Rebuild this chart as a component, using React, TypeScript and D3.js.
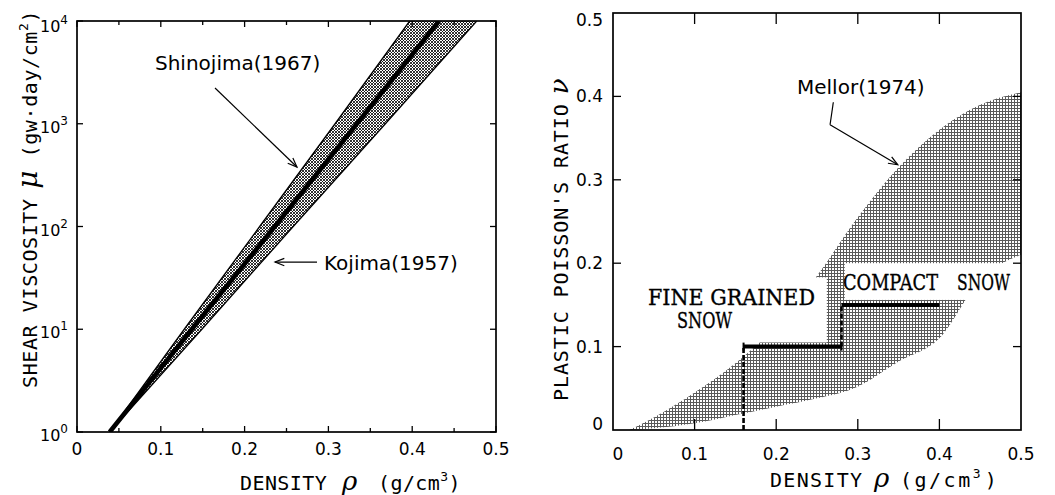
import React from "react";
import * as d3 from "d3";

const W = 1055;
const H = 495;

// ---------- Left panel: shear viscosity vs density ----------
const muDecades = [1, 10, 100, 1000, 10000];
const shinojimaUpperRho = [0.039, 0.128, 0.218, 0.308, 0.397];
const kojimaRho = [0.039, 0.137, 0.236, 0.334, 0.432];
const shinojimaLowerRho = [0.039, 0.149, 0.258, 0.368, 0.477];

const xMajorTicks = [0, 0.1, 0.2, 0.3, 0.4, 0.5];
const xMinorTicks = [0.05, 0.15, 0.25, 0.35, 0.45];
const yDecadeTicks = [1, 10, 100, 1000, 10000];
const yExponentLabels = ["0", "1", "2", "3", "4"];

// ---------- Right panel: plastic Poisson's ratio vs density ----------
const mellorRho = [0.02, 0.05, 0.1, 0.15, 0.2, 0.25, 0.3, 0.35, 0.4, 0.45, 0.5];
const mellorUpperNu = [0, 0.015, 0.045, 0.08, 0.125, 0.185, 0.255, 0.315, 0.36, 0.39, 0.405];
const mellorLowerNu = [0, 0.002, 0.008, 0.018, 0.028, 0.038, 0.052, 0.082, 0.11, 0.18, 0.21];

const fineRho = [0.16, 0.28];
const fineNu = 0.1;
const compactRho = [0.28, 0.4];
const compactNu = 0.15;

const rXTicks = [0, 0.1, 0.2, 0.3, 0.4, 0.5];
const rYTicks = [0, 0.1, 0.2, 0.3, 0.4, 0.5];
const rTickLabels = ["0", "0.1", "0.2", "0.3", "0.4", "0.5"];

const MONO = "'DejaVu Sans Mono', monospace";
const SANS = "'DejaVu Sans', sans-serif";
const SERIF = "'DejaVu Serif', serif";
const TYPE = "'DejaVu Serif', 'Liberation Serif', serif";

function Arrow({ x1, y1, x2, y2, len = 10 }: { x1: number; y1: number; x2: number; y2: number; len?: number }) {
  const a = Math.atan2(y2 - y1, x2 - x1);
  const h = 0.38;
  const p1 = [x2 - len * Math.cos(a - h), y2 - len * Math.sin(a - h)];
  const p2 = [x2 - len * Math.cos(a + h), y2 - len * Math.sin(a + h)];
  return (
    <g stroke="#000" strokeWidth={1.2} fill="none">
      <line x1={x1} y1={y1} x2={x2} y2={y2} />
      <polyline points={`${p1[0]},${p1[1]} ${x2},${y2} ${p2[0]},${p2[1]}`} />
    </g>
  );
}

export default function App() {
  const xL = d3.scaleLinear().domain([0, 0.5]).range([77, 496]);
  const yL = d3.scaleLog().domain([1, 1e4]).range([432, 21]);
  const xR = d3.scaleLinear().domain([0, 0.5]).range([613, 1021]);
  const yR = d3.scaleLinear().domain([0, 0.5]).range([430, 13]);

  const idx = muDecades.map((_, i) => i);
  const bandPath = d3
    .area<number>()
    .y((i) => yL(muDecades[i]))
    .x0((i) => xL(shinojimaUpperRho[i]))
    .x1((i) => xL(shinojimaLowerRho[i]))(idx) as string;
  const upperEdge = d3
    .line<number>()
    .x((i) => xL(shinojimaUpperRho[i]))
    .y((i) => yL(muDecades[i]))(idx) as string;
  const lowerEdge = d3
    .line<number>()
    .x((i) => xL(shinojimaLowerRho[i]))
    .y((i) => yL(muDecades[i]))(idx) as string;
  const kojimaPath = d3
    .line<number>()
    .x((i) => xL(kojimaRho[i]))
    .y((i) => yL(muDecades[i]))(idx) as string;

  const mIdx = mellorRho.map((_, i) => i);
  const mellorPath = d3
    .area<number>()
    .curve(d3.curveMonotoneX)
    .x((i) => xR(mellorRho[i]))
    .y0((i) => yR(mellorLowerNu[i]))
    .y1((i) => yR(mellorUpperNu[i]))(mIdx) as string;

  const fineMask = { r0: 0.04, r1: 0.262, n0: 0.105, n1: 0.183 };
  const compactMask = { r0: 0.284, r1: 0.5, n0: 0.156, n1: 0.2 };

  const lT = yL.range()[1], lB = yL.range()[0], lLft = xL.range()[0], lRgt = xL.range()[1];
  const rT = yR.range()[1], rB = yR.range()[0], rLft = xR.range()[0], rRgt = xR.range()[1];

  const snowLabel = (x: number, y: number, len: number, s: string) => (
    <text
      x={x}
      y={y}
      fontFamily={TYPE}
      fontSize={22}
      textLength={len}
      lengthAdjust="spacingAndGlyphs"
      fill="#000"
      stroke="#000"
      strokeWidth={0.35}
    >
      {s}
    </text>
  );

  return (
    <svg width={W} height={H} style={{ position: "absolute", left: 0, top: 0, background: "#fff" }}>
      <defs>
        <pattern id="hatch" width={3} height={3} patternUnits="userSpaceOnUse">
          <rect width={3} height={3} fill="#fff" />
          <path d="M0,0 L3,3 M3,0 L0,3" stroke="#000" strokeWidth={0.8} />
        </pattern>
        <pattern id="stipple" width={3} height={3} patternUnits="userSpaceOnUse">
          <rect width={3} height={3} fill="#fff" />
          <rect x={0} y={0} width={3} height={1} fill="#5a5a5a" />
          <rect x={0} y={0} width={1} height={3} fill="#5a5a5a" />
        </pattern>
        <clipPath id="clipL">
          <rect x={lLft} y={lT} width={lRgt - lLft} height={lB - lT} />
        </clipPath>
        <clipPath id="clipR">
          <rect x={rLft} y={rT} width={rRgt - rLft} height={rB - rT} />
        </clipPath>
      </defs>

      {/* ================= LEFT PANEL ================= */}
      <g clipPath="url(#clipL)">
        <path d={bandPath} fill="url(#hatch)" stroke="none" />
        <path d={upperEdge} fill="none" stroke="#000" strokeWidth={1.3} />
        <path d={lowerEdge} fill="none" stroke="#000" strokeWidth={1.3} />
        <path d={kojimaPath} fill="none" stroke="#000" strokeWidth={4.6} />
      </g>
      <rect x={lLft} y={lT} width={lRgt - lLft} height={lB - lT} fill="none" stroke="#000" strokeWidth={1.7} />
      <g stroke="#000" strokeWidth={1.3}>
        {xMajorTicks.map((t) => (
          <g key={"lxM" + t}>
            <line x1={xL(t)} x2={xL(t)} y1={lB} y2={lB - 6} />
            <line x1={xL(t)} x2={xL(t)} y1={lT} y2={lT + 6} />
          </g>
        ))}
        {xMinorTicks.map((t) => (
          <g key={"lxm" + t}>
            <line x1={xL(t)} x2={xL(t)} y1={lB} y2={lB - 4} />
            <line x1={xL(t)} x2={xL(t)} y1={lT} y2={lT + 4} />
          </g>
        ))}
        {yDecadeTicks.map((t) => (
          <g key={"ly" + t}>
            <line x1={lLft} x2={lLft + 6} y1={yL(t)} y2={yL(t)} />
            <line x1={lRgt} x2={lRgt - 6} y1={yL(t)} y2={yL(t)} />
          </g>
        ))}
      </g>
      <g fontFamily={SANS} fontSize={17} textAnchor="middle" fill="#000">
        {xMajorTicks.map((t) => (
          <text key={"lxl" + t} x={xL(t)} y={455}>
            {t === 0 ? "0" : d3.format(".1f")(t)}
          </text>
        ))}
      </g>
      <g fontFamily={SANS} fontSize={16} fill="#000">
        {yDecadeTicks.map((t, i) => (
          <text key={"lyl" + t} x={40} y={Math.max(yL(t) + 9, 32)}>
            10
            <tspan fontSize={12} dy={-8}>
              {yExponentLabels[i]}
            </tspan>
          </text>
        ))}
      </g>
      <text transform={`translate(37, 388) rotate(-90)`} fontFamily={MONO} fontSize={20} letterSpacing={0.6} fill="#000">
        SHEAR VISCOSITY
        <tspan fontFamily={SERIF} fontStyle="italic" fontSize={28}>
          {" μ"}
        </tspan>
        <tspan>{" (gw·day/cm"}</tspan>
        <tspan fontSize={13} dy={-9}>2</tspan>
        <tspan dy={9}>)</tspan>
      </text>
      <text x={240} y={490} fontFamily={MONO} fontSize={20} letterSpacing={0.4} fill="#000">
        DENSITY
        <tspan x={342} fontFamily={SERIF} fontStyle="italic" fontSize={26}>ρ</tspan>
        <tspan x={378}>(g/cm</tspan>
        <tspan fontSize={13} dy={-9}>3</tspan>
        <tspan dy={9}>)</tspan>
      </text>
      <text x={155} y={70} fontFamily={SANS} fontSize={20} fill="#000">
        Shinojima(1967)
      </text>
      <Arrow x1={xL(0.1647)} y1={yL(2228)} x2={xL(0.2625)} y2={yL(379)} />
      <text x={324} y={270} fontFamily={SANS} fontSize={20} fill="#000">
        Kojima(1957)
      </text>
      <Arrow x1={xL(0.2864)} y1={yL(45.1)} x2={xL(0.2363)} y2={yL(45.1)} />

      {/* ================= RIGHT PANEL ================= */}
      <g clipPath="url(#clipR)">
        <path d={mellorPath} fill="url(#stipple)" stroke="none" />
        <rect
          x={xR(fineMask.r0)}
          y={yR(fineMask.n1)}
          width={xR(fineMask.r1) - xR(fineMask.r0)}
          height={yR(fineMask.n0) - yR(fineMask.n1)}
          fill="#fff"
        />
        <rect
          x={xR(compactMask.r0)}
          y={yR(compactMask.n1)}
          width={xR(compactMask.r1) - xR(compactMask.r0)}
          height={yR(compactMask.n0) - yR(compactMask.n1)}
          fill="#fff"
        />
        <line x1={xR(fineRho[0])} x2={xR(fineRho[0])} y1={yR(0)} y2={yR(fineNu)} stroke="#000" strokeWidth={2.6} strokeDasharray="5,2" />
        <line
          x1={xR(compactRho[0])}
          x2={xR(compactRho[0])}
          y1={yR(fineNu)}
          y2={yR(compactNu)}
          stroke="#000"
          strokeWidth={2.6}
          strokeDasharray="5,2"
        />
        <line x1={xR(fineRho[0])} x2={xR(fineRho[1])} y1={yR(fineNu)} y2={yR(fineNu)} stroke="#000" strokeWidth={4} />
        <line x1={xR(compactRho[0])} x2={xR(compactRho[1])} y1={yR(compactNu)} y2={yR(compactNu)} stroke="#000" strokeWidth={4} />
        {[fineRho[0], fineRho[1]].map((r, i) => (
          <line key={"fe" + i} x1={xR(r)} x2={xR(r)} y1={yR(fineNu) - 4} y2={yR(fineNu) + 4} stroke="#000" strokeWidth={2} />
        ))}
      </g>
      <rect x={rLft} y={rT} width={rRgt - rLft} height={rB - rT} fill="none" stroke="#000" strokeWidth={1.7} />
      <g stroke="#000" strokeWidth={1.3}>
        {rXTicks.slice(1, -1).map((t) => (
          <g key={"rx" + t}>
            <line x1={xR(t)} x2={xR(t)} y1={rB} y2={rB - 11} />
            <line x1={xR(t)} x2={xR(t)} y1={rT} y2={rT + 11} />
          </g>
        ))}
        {rYTicks.slice(1, -1).map((t) => (
          <g key={"ry" + t}>
            <line x1={rLft} x2={rLft + 8} y1={yR(t)} y2={yR(t)} />
            <line x1={rRgt} x2={rRgt - 8} y1={yR(t)} y2={yR(t)} />
          </g>
        ))}
      </g>
      <g fontFamily={SANS} fontSize={17} fill="#000">
        {rXTicks.map((t, i) => (
          <text key={"rxl" + t} x={xR(t) + (i === 0 ? 5 : 0)} y={460} textAnchor="middle">
            {rTickLabels[i]}
          </text>
        ))}
        {rYTicks.map((t, i) => (
          <text
            key={"ryl" + t}
            x={603}
            y={yR(t) + 6 + (i === rYTicks.length - 1 ? 7 : 0) - (i === 0 ? 6 : 0)}
            textAnchor="end"
          >
            {rTickLabels[i]}
          </text>
        ))}
      </g>
      <text transform={`translate(568, 401) rotate(-90)`} fontFamily={MONO} fontSize={20} letterSpacing={0.9} fill="#000">
        PLASTIC POISSON'S RATIO
        <tspan fontFamily={SERIF} fontStyle="italic" fontSize={26}>{" ν"}</tspan>
      </text>
      <text x={770} y={487} fontFamily={MONO} fontSize={20} letterSpacing={1.3} fill="#000">
        DENSITY
        <tspan x={874} fontFamily={SERIF} fontStyle="italic" fontSize={26}>ρ</tspan>
        <tspan x={900} letterSpacing={2.5}>(g/cm</tspan>
        <tspan fontSize={13} dy={-9}>3</tspan>
        <tspan dy={9} dx={3}>)</tspan>
      </text>

      {snowLabel(648, 305, 167, "FINE GRAINED")}
      {snowLabel(677, 328, 55, "SNOW")}
      {snowLabel(843, 290, 95, "COMPACT")}
      {snowLabel(957, 290, 53, "SNOW")}

      <text x={797} y={94} fontFamily={SANS} fontSize={20} fill="#000">
        Mellor(1974)
      </text>
      <polyline points={`${xR(0.27)},${yR(0.393)} ${xR(0.266)},${yR(0.366)}`} fill="none" stroke="#000" strokeWidth={1.2} />
      <Arrow x1={xR(0.266)} y1={yR(0.366)} x2={xR(0.349)} y2={yR(0.318)} />
    </svg>
  );
}
